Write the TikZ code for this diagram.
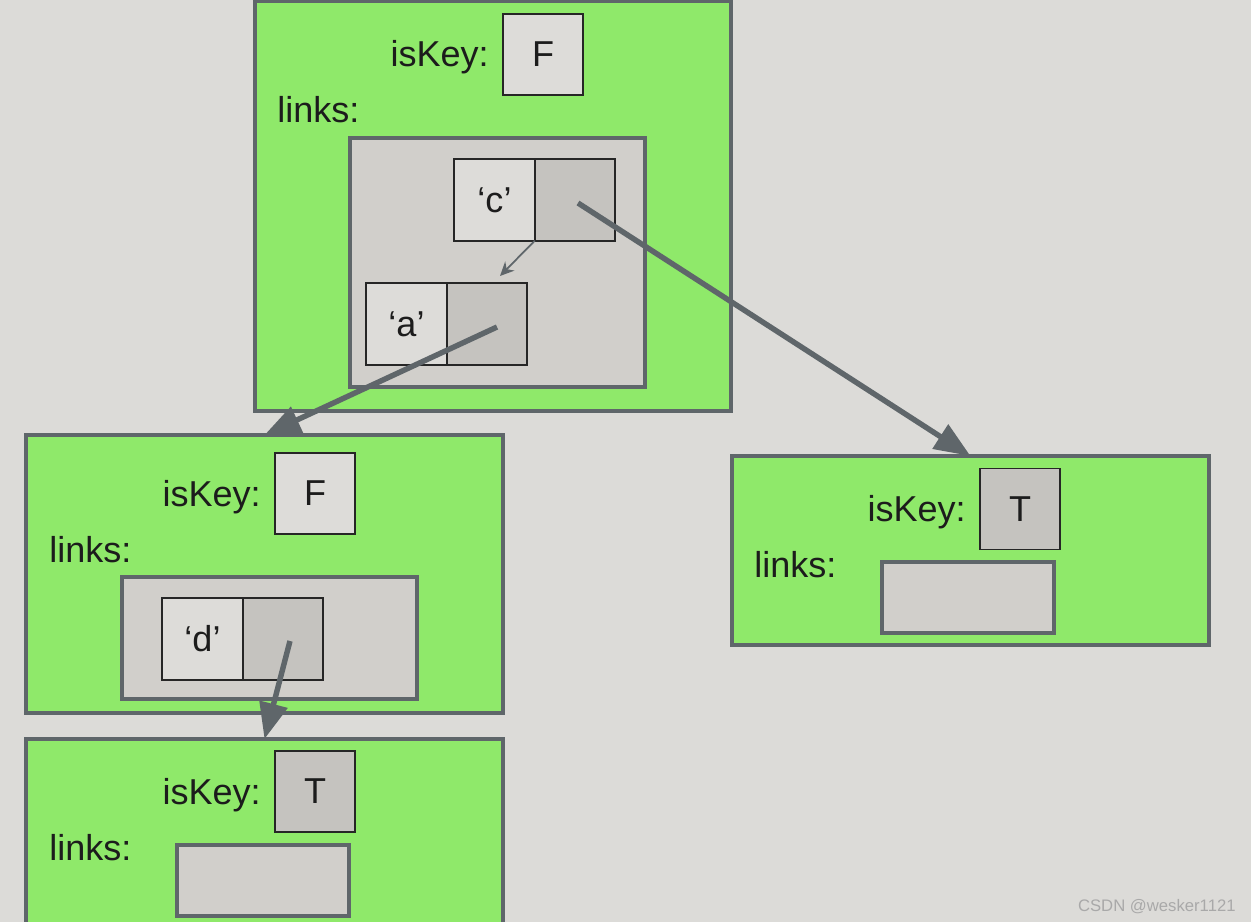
\documentclass[tikz,border=0pt]{standalone}
\usepackage{fontspec}
\setmainfont{Liberation Sans}
\usepackage{xcolor}
\usetikzlibrary{positioning,arrows.meta}

\definecolor{bgc}{HTML}{DCDBD8}
\definecolor{nodeg}{HTML}{8FE96A}
\definecolor{edge}{HTML}{5F666A}
\definecolor{linkc}{HTML}{D1CFCB}
\definecolor{cellL}{HTML}{DDDCD9}
\definecolor{cellD}{HTML}{C5C3BF}
\definecolor{txt}{HTML}{1C1C1C}
\definecolor{wm}{HTML}{A9A9A9}

\begin{document}
\begin{tikzpicture}[
  x=0.02cm, y=-0.02cm,
  font=\fontsize{20.5}{24}\selectfont,
  text=txt,
  trie/.style={draw=edge, fill=nodeg, line width=2.1pt, outer sep=0pt, inner sep=0pt},
  linkbox/.style={draw=edge, fill=linkc, line width=2.1pt, outer sep=0pt, inner sep=0pt},
  keycell/.style={draw=black!85, fill=cellL, line width=1.1pt, outer sep=0pt, inner sep=0pt,
                  minimum width=1.61cm, minimum height=1.63cm},
  ptrcell/.style={keycell, fill=cellD},
  flag/.style={keycell, minimum width=1.6cm, minimum height=1.62cm},
  field/.style={inner sep=0pt},
  ptr/.style={-{Triangle[length=7.2mm,width=5.6mm]}, draw=edge, line width=3.1pt},
  nextarr/.style={-{Stealth[length=2.8mm,width=2.6mm,inset=0.9mm]}, draw=edge, line width=1pt},
]
\useasboundingbox[fill=bgc] (0,0) rectangle (1251,922);

\node[trie, minimum width=9.52cm, minimum height=8.2cm] (root) at (493,206) {};
\node[flag] (rootflag) at (543,54.5) {F};
\node[field, anchor=base east] (rootkey) at (489,67) {isKey:};
\node[field, anchor=base west] (rootlinks) at (277,123) {links:};
\node[linkbox, minimum width=5.9cm, minimum height=4.98cm] (rootmap) at (497.5,262.5) {};
\node[keycell] (ckey) at (494.5,200) {‘c’};
\node[ptrcell, right=0pt of ckey] (cptr) {};
\node[keycell] (akey) at (406.5,324) {‘a’};
\node[ptrcell, right=0pt of akey] (aptr) {};

\node[trie, minimum width=9.54cm, minimum height=5.56cm] (nodea) at (264.5,574) {};
\node[flag] (aflag) at (315,493.5) {F};
\node[field, anchor=base east] (akeytxt) at (261,506) {isKey:};
\node[field, anchor=base west] (alinks) at (49,562) {links:};
\node[linkbox, minimum width=5.9cm, minimum height=2.44cm] (amap) at (269.5,638) {};
\node[keycell] (dkey) at (202.5,639) {‘d’};
\node[ptrcell, right=0pt of dkey] (dptr) {};

\node[trie, minimum width=9.54cm, minimum height=3.78cm] (nodec) at (970.5,550.5) {};
\node[flag, fill=cellD] (cflag) at (1020,509) {T};
\node[field, anchor=base east] (ckeytxt) at (966,521) {isKey:};
\node[field, anchor=base west] (clinks) at (754,577) {links:};
\node[linkbox, minimum width=3.44cm, minimum height=1.42cm] (cmap) at (968,597.5) {};

\node[trie, minimum width=9.54cm, minimum height=4.42cm] (noded) at (264.5,849.5) {};
\node[flag, fill=cellD] (dflag) at (315,791.5) {T};
\node[field, anchor=base east] (dkeytxt) at (261,804) {isKey:};
\node[field, anchor=base west] (dlinks) at (49,860) {links:};
\node[linkbox, minimum width=3.44cm, minimum height=1.42cm] (dmap) at (263,880.5) {};

\node[field, anchor=base east, font=\fontsize{9.5}{11}\selectfont, text=wm] (mark) at (1236,911) {CSDN @wesker1121};

\coordinate (anext) at (500,276);
\draw[nextarr] (cptr.south west) -- (anext);
\draw[ptr] ([shift={(3,3)}]cptr.center) -- (nodec.north);
\draw[ptr] ([shift={(10,3)}]aptr.center) -- (nodea.north);
\draw[ptr] ([shift={(7,2)}]dptr.center) -- (noded.north);
\end{tikzpicture}
\end{document}
